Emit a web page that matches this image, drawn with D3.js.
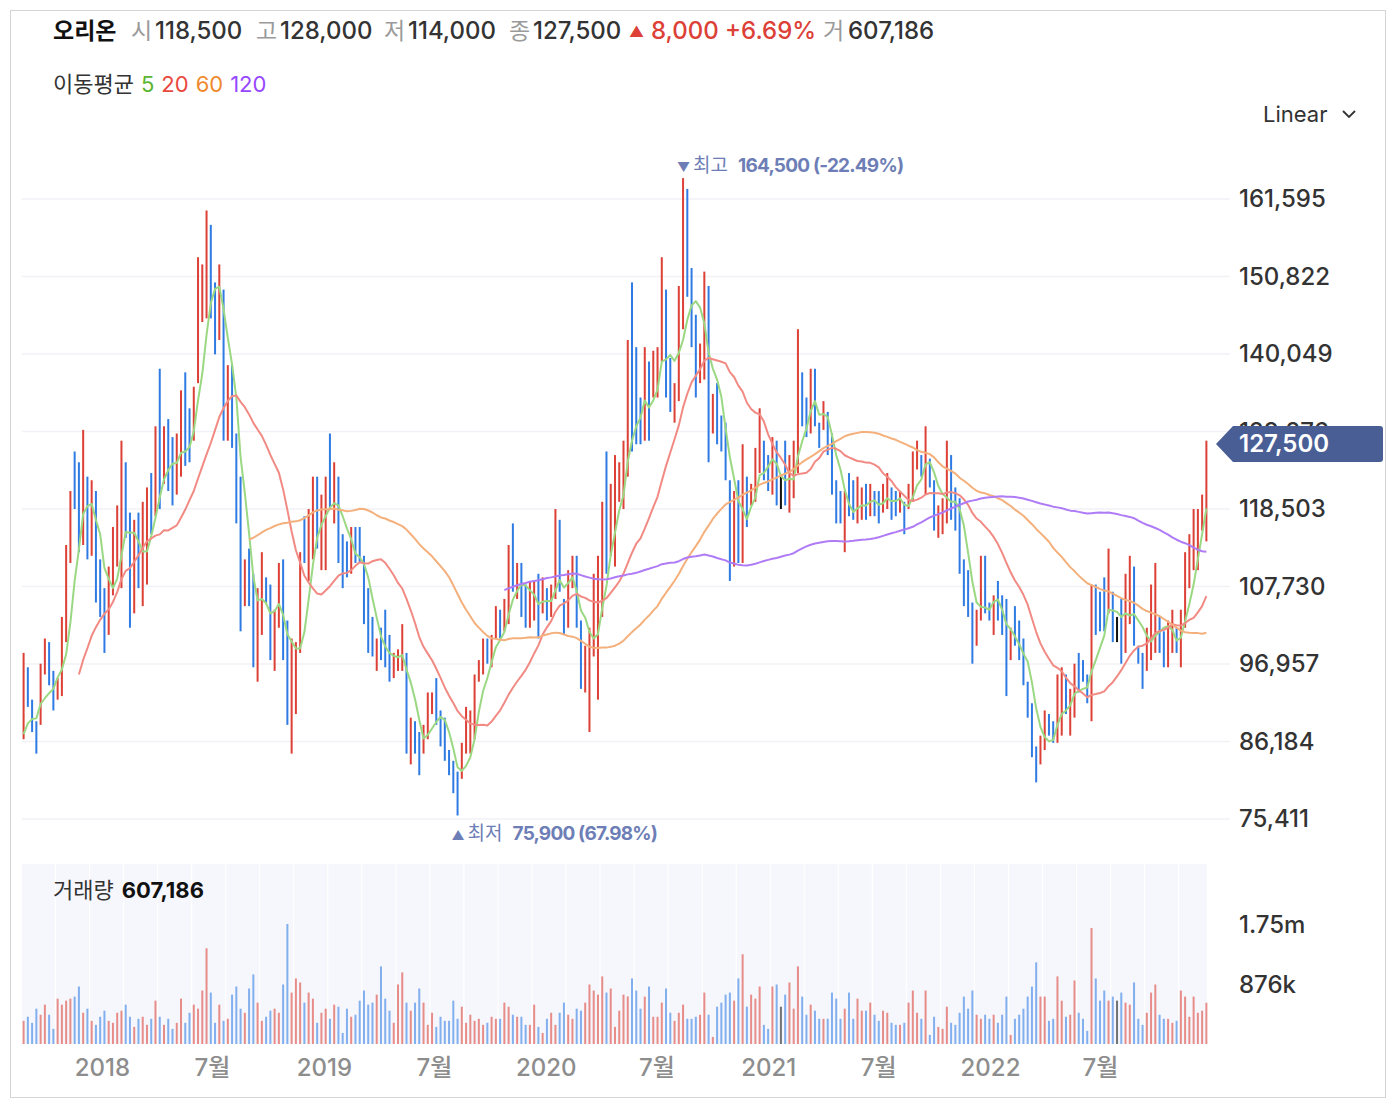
<!DOCTYPE html>
<html>
<head>
<meta charset="utf-8">
<script src="https://cdn.jsdelivr.net/npm/d3@7"></script>
<style>
  body { margin: 0; background: #fff; }
  svg text { font-family: Inter, "Noto Sans CJK KR", "Noto Sans", sans-serif; }
</style>
</head>
<body>
<div id="chart"></div>
<script>
// weekly candles for 오리온, first visible week ends 2017-08-25
const firstWeek = new Date(2017, 7, 25);

// closes of the six weeks before the visible window (needed by the averages)
const preCloses = [84000, 82500, 85000, 86000, 85500, 84500];

// R = up (red), B = down (blue), K = unchanged (black)
const dirs =
  "RBBBRRBBRR" + "RRBBRBRBBB" + "RRRRBBRBRR" + "BRBRBBRRBB" + "RRRRBBRBRB" +
  "BBRBBRRBBR" + "RBBRRRBRRB" + "RRBRBBBRBB" + "BBBRBBBRRR" + "BRBBRRRBBB" +
  "BBBRRRRRRB" + "RRBRRBRBBR" + "RBRBRRBBRR" + "BBRRRRRBRR" + "RRRBBBRBRR" +
  "RBBRRRBBBR" + "RBRBBBBRBR" + "BRRRBBRBKB" + "RRRBBRBBRB" + "BBBRBBRRBR" +
  "BBRRBBRBRR" + "RBRBBRRRBB" + "BBBBRRBBRB" + "BBRBBBBBBR" + "RBBRRBRRBB" +
  "BRBBBRBKBR" + "RBBBRRRBBR" + "RBRRRRRRR";

const highs = [
  98500, 96500, 92000, 89000, 97000, 100500, 100000, 96000, 95000, 103500,
  113500, 121000, 126500, 125000, 129500, 123000, 122500, 121000, 111500, 107500,
  110500, 116000, 119000, 128000, 125000, 118000, 117000, 118000, 119500, 121500,
  123500, 130000, 138000, 130000, 131000, 128500, 129000, 135000, 137500, 132500,
  135500, 153500, 152500, 160000, 158000, 150000, 152500, 149000, 138500, 138500,
  129000, 123000, 111500, 113000, 109500, 107500, 112500, 109000, 108000, 104500,
  111000, 111500, 103000, 100500, 100000, 112500, 117500, 118500, 123000, 123000,
  120500, 123000, 129000, 125000, 123000, 115000, 114000, 116000, 116000, 116000,
  112000, 107500, 103500, 100500, 102000, 104500, 101000, 98500, 99000, 102500,
  98500, 89500, 89000, 87500, 88500, 93000, 93000, 95000, 90500, 89500,
  85000, 83500, 82000, 86000, 91000, 90500, 95500, 97500, 100500, 100500,
  101000, 105000, 104500, 106000, 113500, 116500, 111000, 111000, 108000, 108500,
  108500, 109500, 109000, 107500, 108000, 118500, 117000, 106000, 110000, 112000,
  112000, 103000, 99500, 102000, 109500, 112000, 119500, 126500, 122000, 126000,
  125000, 128000, 142000, 150000, 141000, 134000, 141000, 139000, 140500, 141000,
  153500, 149000, 139500, 136000, 149500, 164500, 163000, 152000, 145500, 141500,
  151500, 149500, 134500, 136000, 131500, 130500, 122500, 121000, 122500, 127500,
  123000, 122000, 127000, 132500, 128000, 126000, 128500, 128000, 123000, 128000,
  126000, 128000, 143500, 137500, 134000, 138000, 138000, 130500, 133500, 132000,
  129000, 122500, 121000, 121000, 123500, 122500, 123000, 121500, 122000, 122000,
  121000, 121000, 122000, 123500, 121500, 121000, 121000, 119500, 122000, 126500,
  128000, 126000, 130000, 125500, 122500, 119000, 120000, 128000, 126000, 121500,
  120000, 111500, 110000, 105500, 104500, 112000, 112000, 105500, 106500, 108500,
  106500, 106000, 102000, 105000, 103000, 100500, 94500, 91500, 85500, 87000,
  90500, 90000, 89000, 95500, 96500, 95500, 93500, 97000, 98500, 97500,
  95500, 108000, 108000, 107000, 109000, 113000, 107000, 103500, 106000, 109500,
  112000, 110500, 99500, 98500, 102000, 108000, 111000, 103500, 101500, 103000,
  104500, 102000, 104500, 112500, 115000, 118500, 118500, 120500, 128000
];

const lows = [
  86500, 91000, 87500, 84500, 88500, 95500, 94000, 90500, 92000, 92500,
  100000, 111000, 118500, 112500, 113500, 111500, 112000, 105500, 103500, 98500,
  101000, 106500, 110500, 107500, 114500, 102000, 104000, 107500, 105000, 108000,
  115000, 117500, 118500, 122000, 121000, 119000, 120500, 123000, 124500, 125000,
  128000, 136000, 144500, 145000, 145000, 140000, 142000, 128000, 128000, 127000,
  116500, 101500, 105000, 105000, 96500, 94500, 101000, 105500, 97500, 96000,
  102000, 97500, 88500, 84500, 90000, 98500, 111000, 108500, 111500, 113000,
  110000, 110000, 118500, 116500, 111000, 107500, 109000, 109500, 111000, 111000,
  102500, 98500, 98000, 96000, 97500, 96500, 94500, 95000, 96000, 96000,
  84500, 83000, 84500, 81500, 84500, 86500, 90000, 88500, 85500, 83500,
  81500, 79000, 75900, 81000, 84500, 84500, 86500, 94500, 95500, 97000,
  96500, 100500, 100500, 101500, 102500, 107000, 106000, 103500, 102000, 102000,
  103000, 100500, 104000, 103000, 103500, 106000, 107000, 101000, 102000, 107500,
  102000, 93500, 93000, 87500, 98000, 92000, 103500, 109500, 112000, 110500,
  119500, 118500, 123000, 126500, 127500, 127500, 128000, 128000, 134000, 134000,
  139000, 134000, 132000, 130500, 133500, 143500, 148000, 141000, 134000, 136000,
  136500, 125000, 129000, 127500, 126500, 122500, 108500, 110500, 111000, 111000,
  116000, 119000, 119500, 123500, 122500, 121000, 120500, 119000, 118500, 119000,
  118000, 120000, 123500, 130000, 128500, 129000, 130000, 127000, 129500, 126000,
  120500, 116500, 116500, 112500, 117500, 117000, 116500, 117000, 117000, 117500,
  117500, 116500, 118000, 118500, 117000, 117500, 118000, 115000, 118500, 119500,
  124000, 123000, 120500, 121500, 115500, 114500, 115000, 116500, 117000, 115500,
  109500, 105000, 103500, 97000, 99500, 103000, 104000, 103000, 101000, 103000,
  101000, 92500, 97500, 99500, 97500, 94000, 89500, 84000, 80500, 83000,
  85000, 87000, 86000, 86000, 87000, 90000, 87000, 89500, 93000, 94500,
  91500, 89000, 101000, 101500, 101500, 104000, 100000, 100000, 97000, 98500,
  102500, 99500, 97000, 93500, 96000, 97500, 98500, 98500, 96500, 96500,
  98500, 98500, 96500, 102000, 107500, 110000, 110000, 115500, 114000
];

const closes = [
  95000, 92500, 89000, 86000, 94500, 99000, 96000, 92000, 94000, 100000,
  109500, 118000, 121000, 116000, 124500, 115000, 119500, 110000, 106000, 101000,
  107500, 113000, 116500, 122000, 117500, 107000, 113000, 110500, 115000, 117500,
  117500, 126000, 124500, 127500, 124000, 122000, 126500, 131500, 128500, 127000,
  133000, 148000, 150000, 155500, 149000, 143000, 149500, 134500, 135500, 130500,
  120000, 108000, 109500, 107500, 100500, 103500, 109000, 106500, 100500, 102000,
  108500, 101500, 93000, 95500, 97000, 108500, 113000, 115500, 119500, 116000,
  117500, 119000, 121500, 122500, 114500, 110000, 110500, 114000, 112500, 112000,
  105500, 101000, 99500, 99000, 99000, 98500, 96500, 97500, 98000, 100500,
  88500, 87500, 86000, 83500, 87500, 91000, 92000, 90500, 87000, 85500,
  82500, 80500, 77500, 84500, 89000, 88500, 93000, 96500, 99000, 98000,
  99500, 103500, 101500, 104500, 110000, 110000, 109500, 106000, 104000, 106500,
  107000, 103000, 107500, 104500, 106500, 114500, 110000, 102500, 107500, 110500,
  105000, 96500, 97500, 97500, 106000, 108000, 114500, 113000, 119000, 121500,
  123500, 125000, 136500, 133500, 131500, 129500, 137000, 131500, 138500, 139000,
  149000, 138500, 134500, 134500, 144500, 158000, 152500, 144500, 137500, 140000,
  147000, 132500, 133000, 130000, 128000, 125000, 112500, 118000, 114500, 122500,
  118000, 121000, 124500, 130000, 124000, 122500, 126000, 121500, 121500, 121000,
  123500, 125500, 137500, 132000, 130000, 135500, 132500, 128000, 132500, 128000,
  123000, 118500, 118000, 118500, 118000, 117500, 121000, 120000, 118500, 120500,
  118500, 118000, 121000, 122000, 118500, 118500, 120000, 116500, 121000, 124500,
  127000, 124000, 127000, 122500, 117500, 117500, 118500, 124500, 119500, 117500,
  112500, 107000, 105500, 99500, 103000, 109500, 106500, 104000, 105000, 104500,
  102500, 96500, 100500, 100000, 99000, 96000, 91000, 86000, 82000, 86000,
  89000, 88000, 87000, 92500, 93500, 91500, 91500, 95000, 94500, 95000,
  92500, 102500, 103000, 103000, 103500, 110500, 102000, 102000, 99500, 106000,
  109000, 103000, 97500, 95000, 100000, 105000, 107000, 100000, 98000, 101000,
  102500, 99500, 102000, 109500, 113000, 116000, 117000, 119500, 127500
];

const volumes = [
  341000, 401000, 312000, 520000, 431000, 579000, 431000, 223000, 668000, 579000,
  638000, 668000, 698000, 846000, 460000, 520000, 341000, 282000, 401000, 490000,
  341000, 312000, 460000, 490000, 579000, 401000, 252000, 371000, 401000, 282000,
  371000, 638000, 401000, 282000, 371000, 223000, 312000, 668000, 312000, 460000,
  579000, 520000, 787000, 1410000, 757000, 312000, 579000, 341000, 371000, 727000,
  846000, 520000, 460000, 817000, 1024000, 609000, 341000, 401000, 490000, 520000,
  460000, 876000, 1767000, 757000, 965000, 906000, 609000, 757000, 668000, 312000,
  460000, 520000, 371000, 579000, 549000, 163000, 520000, 401000, 431000, 638000,
  787000, 579000, 609000, 727000, 1143000, 668000, 490000, 312000, 876000, 1054000,
  609000, 490000, 609000, 817000, 609000, 282000, 460000, 252000, 401000, 341000,
  341000, 638000, 371000, 549000, 312000, 431000, 341000, 371000, 282000, 312000,
  401000, 371000, 371000, 609000, 549000, 431000, 401000, 401000, 282000, 282000,
  579000, 252000, 163000, 371000, 460000, 282000, 460000, 609000, 431000, 371000,
  520000, 490000, 609000, 876000, 787000, 727000, 995000, 757000, 817000, 252000,
  490000, 727000, 700000, 965000, 787000, 520000, 698000, 846000, 401000, 401000,
  609000, 817000, 460000, 341000, 460000, 579000, 371000, 371000, 401000, 431000,
  757000, 431000, 104000, 549000, 609000, 727000, 757000, 638000, 965000, 1321000,
  549000, 727000, 668000, 846000, 282000, 223000, 846000, 876000, 549000, 727000,
  906000, 520000, 1143000, 698000, 431000, 579000, 490000, 371000, 371000, 371000,
  757000, 668000, 371000, 520000, 757000, 371000, 668000, 490000, 490000, 609000,
  431000, 341000, 490000, 460000, 312000, 282000, 282000, 312000, 609000, 787000,
  460000, 371000, 787000, 134000, 401000, 252000, 223000, 549000, 312000, 282000,
  460000, 698000, 520000, 787000, 431000, 371000, 431000, 371000, 431000, 312000,
  431000, 698000, 134000, 371000, 431000, 520000, 698000, 846000, 1203000, 698000,
  698000, 341000, 371000, 995000, 638000, 401000, 431000, 935000, 460000, 371000,
  193000, 1707000, 965000, 638000, 787000, 638000, 698000, 638000, 757000, 609000,
  579000, 906000, 371000, 282000, 460000, 757000, 876000, 431000, 371000, 371000,
  312000, 341000, 787000, 698000, 401000, 698000, 460000, 490000, 607186
];

const lastOpen = 118500;
const maPeriods = [5, 20, 60, 120];
const maColors = ["#9bd883", "#f28a84", "#f4b07c", "#b07cf6"];
const legendColors = ["#5ab52f", "#e9483e", "#f0892e", "#9747ff"];

const priceTicks = [75411, 86184, 96957, 107730, 118503, 129276, 140049, 150822, 161595];
const volumeTicks = [876000, 1752000];
const volumeTickLabels = ["876k", "1.75m"];
const timeTicks = ["2018-01-01", "2018-07-01", "2019-01-01", "2019-07-01", "2020-01-01",
                   "2020-07-01", "2021-01-01", "2021-07-01", "2022-01-01", "2022-07-01"];
const timeTickLabels = ["2018", "7월", "2019", "7월", "2020", "7월", "2021", "7월", "2022", "7월"];

const W = 1396, H = 1108;
const red = "#dc4036", blue = "#2f7be3", black = "#111";
const colorOf = c => c === "R" ? red : c === "B" ? blue : black;
const fmt = d3.format(",");
const numFont = "Inter, \"Noto Sans CJK KR\", sans-serif";

const dates = closes.map((_, i) => d3.timeWeek.offset(firstWeek, i));
const parse = d3.timeParse("%Y-%m-%d");

const x = d3.scaleTime()
  .domain([new Date(2018, 0, 1), new Date(2022, 0, 1)])
  .range([102, 990]);
const y = d3.scaleLinear().domain([75411, 161595]).range([819, 199]);
const yVol = d3.scaleLinear().domain([0, 1752000]).range([1044, 925]);

const svg = d3.select("#chart").append("svg")
  .attr("width", W).attr("height", H);

svg.append("rect")
  .attr("x", 10.5).attr("y", 10.5).attr("width", 1375).attr("height", 1087)
  .attr("fill", "#fff").attr("stroke", "#d4d4d4");

svg.append("defs").append("clipPath").attr("id", "plot")
  .append("rect").attr("x", 21).attr("y", 140).attr("width", 1189).attr("height", 720);

// price grid
svg.append("g").selectAll("line").data(priceTicks).enter().append("line")
  .attr("x1", 22).attr("x2", 1230)
  .attr("y1", d => y(d)).attr("y2", d => y(d))
  .attr("stroke", "#f1f1f7").attr("stroke-width", 1.5);

// price axis
const yAxis = svg.append("g").attr("transform", "translate(1239,0)")
  .call(d3.axisRight(y).tickValues(priceTicks).tickSize(0).tickPadding(0).tickFormat(fmt));
yAxis.select(".domain").remove();
yAxis.selectAll("text")
  .attr("font-size", 24).attr("font-weight", 500).attr("fill", "#333")
  .attr("font-family", numFont);

// volume panel background with light stripes
svg.append("rect").attr("x", 22).attr("y", 864).attr("width", 1185).attr("height", 180)
  .attr("fill", "#f6f7fc");
svg.append("g").selectAll("line")
  .data(d3.range(7, dates.length, 8)).enter().append("line")
  .attr("x1", i => x(dates[i]) + 2.1).attr("x2", i => x(dates[i]) + 2.1)
  .attr("y1", 864).attr("y2", 1044)
  .attr("stroke", "#fff").attr("stroke-width", 1.2);

// volume bars
svg.append("g").selectAll("rect").data(volumes).enter().append("rect")
  .attr("x", (d, i) => x(dates[i]) - 1)
  .attr("width", 2)
  .attr("y", d => yVol(d))
  .attr("height", d => yVol(0) - yVol(d))
  .attr("fill", (d, i) => colorOf(dirs[i]))
  .attr("fill-opacity", 0.58);

const volAxis = svg.append("g").attr("transform", "translate(1239,0)")
  .call(d3.axisRight(yVol).tickValues(volumeTicks).tickSize(0).tickPadding(0)
    .tickFormat((d, i) => volumeTickLabels[i]));
volAxis.select(".domain").remove();
volAxis.selectAll("text")
  .attr("font-size", 24).attr("font-weight", 500).attr("fill", "#333")
  .attr("font-family", numFont);

// time axis
const xAxis = svg.append("g").attr("transform", "translate(0,1068)")
  .call(d3.axisBottom(x).tickValues(timeTicks.map(parse)).tickSize(0).tickPadding(0)
    .tickFormat((d, i) => timeTickLabels[i]));
xAxis.select(".domain").remove();
xAxis.selectAll("text")
  .attr("dy", "0.35em")
  .attr("font-size", 24).attr("font-weight", 500).attr("fill", "#8d8d8d")
  .attr("font-family", numFont);

// candles and moving averages
const plot = svg.append("g").attr("clip-path", "url(#plot)");

const allCloses = preCloses.concat(closes);
const off = preCloses.length;
function movingAverage(n) {
  return closes.map((_, i) => {
    const end = i + off + 1;
    return end < n ? null : d3.mean(allCloses.slice(end - n, end));
  });
}

plot.append("g").selectAll("rect").data(highs).enter().append("rect")
  .attr("x", (d, i) => x(dates[i]) - 1)
  .attr("width", 2)
  .attr("y", d => y(d))
  .attr("height", (d, i) => Math.max(1, y(lows[i]) - y(d)))
  .attr("fill", (d, i) => colorOf(dirs[i]));

maPeriods.forEach((n, k) => {
  const ma = movingAverage(n);
  const line = d3.line()
    .defined(d => d != null)
    .x((d, i) => x(dates[i]))
    .y(d => y(d));
  plot.append("path").datum(ma)
    .attr("d", line)
    .attr("fill", "none")
    .attr("stroke", maColors[k])
    .attr("stroke-width", 2)
    .attr("stroke-linejoin", "round");
});

// high / low annotations
const maxIdx = d3.maxIndex(highs), minIdx = d3.minIndex(lows);
const last = closes.length - 1;
const lastClose = closes[last];
const pct = v => d3.format(".2f")(v * 100).replace("−", "-") + "%";
const note = "#6d7eb6";

function annotate(idx, yy, arrow, label, value) {
  const x0 = x(dates[idx]) - 6;
  const g = svg.append("g").attr("fill", note);
  g.append("text").attr("x", x0).attr("y", yy).attr("font-size", 13).text(arrow);
  g.append("text").attr("x", x0 + 16).attr("y", yy).attr("font-size", 19).text(label);
  g.append("text").attr("x", x0 + 61).attr("y", yy).attr("font-size", 19)
    .attr("font-weight", 700).attr("letter-spacing", -0.8)
    .text(fmt(value) + " (" + pct(lastClose / value - 1) + ")");
}
annotate(maxIdx, y(highs[maxIdx]) - 6, "▼", "최고", highs[maxIdx]);
annotate(minIdx, y(lows[minIdx]) + 25, "▲", "최저", lows[minIdx]);

// current price tag (covers the tick label beneath it, as on the original)
svg.append("path")
  .attr("d", "M1216,444 L1233,426 L1380,426 Q1383,426 1383,429 L1383,459 Q1383,462 1380,462 L1233,462 Z")
  .attr("fill", "#4a5e96");
svg.append("text").attr("x", 1239).attr("y", y(lastClose) + 8)
  .attr("fill", "#fff").attr("font-size", 24).attr("font-weight", 600)
  .text(fmt(lastClose));

// header
const prevClose = closes[last - 1];
const change = lastClose - prevClose;
const header = svg.append("g").attr("font-size", 24);
header.append("text").attr("x", 53).attr("y", 39).attr("font-size", 23).attr("font-weight", 700).attr("fill", "#111").text("오리온");
[
  ["시", lastOpen, 131, 155],
  ["고", highs[last], 256, 280],
  ["저", lows[last], 384, 408],
  ["종", lastClose, 509, 533]
].forEach(([k, v, kx, vx]) => {
  header.append("text").attr("x", kx).attr("y", 39).attr("font-size", 23).attr("fill", "#9a9a9a").text(k);
  header.append("text").attr("x", vx).attr("y", 39).attr("font-weight", 500).attr("fill", "#333").text(fmt(v));
});
header.append("text").attr("x", 629).attr("y", 37).attr("font-size", 15).attr("fill", red).text("▲");
header.append("text").attr("x", 651).attr("y", 39).attr("font-weight", 500).attr("fill", red)
  .text(fmt(change) + " +" + d3.format(".2f")(change / prevClose * 100) + "%");
header.append("text").attr("x", 823).attr("y", 39).attr("font-size", 23).attr("fill", "#9a9a9a").text("거");
header.append("text").attr("x", 848).attr("y", 39).attr("font-weight", 500).attr("fill", "#333").text(fmt(volumes[last]));

// moving average legend
const legend = svg.append("text").attr("x", 53).attr("y", 92).attr("font-size", 22).attr("fill", "#333");
legend.append("tspan").text("이동평균");
maPeriods.forEach((n, k) => {
  legend.append("tspan").attr("dx", 7).attr("fill", legendColors[k]).text(n);
});

// scale selector
svg.append("text").attr("x", 1263).attr("y", 122).attr("font-size", 22).attr("fill", "#333").text("Linear");
svg.append("path").attr("d", "M1343,111 L1349,117 L1355,111")
  .attr("fill", "none").attr("stroke", "#333").attr("stroke-width", 1.8);

// volume label
const volLabel = svg.append("text").attr("x", 53).attr("y", 898).attr("font-size", 22).attr("fill", "#333");
volLabel.append("tspan").text("거래량");
volLabel.append("tspan").attr("dx", 8).attr("font-weight", 700).attr("fill", "#111").text(fmt(volumes[last]));
</script>
</body>
</html>
